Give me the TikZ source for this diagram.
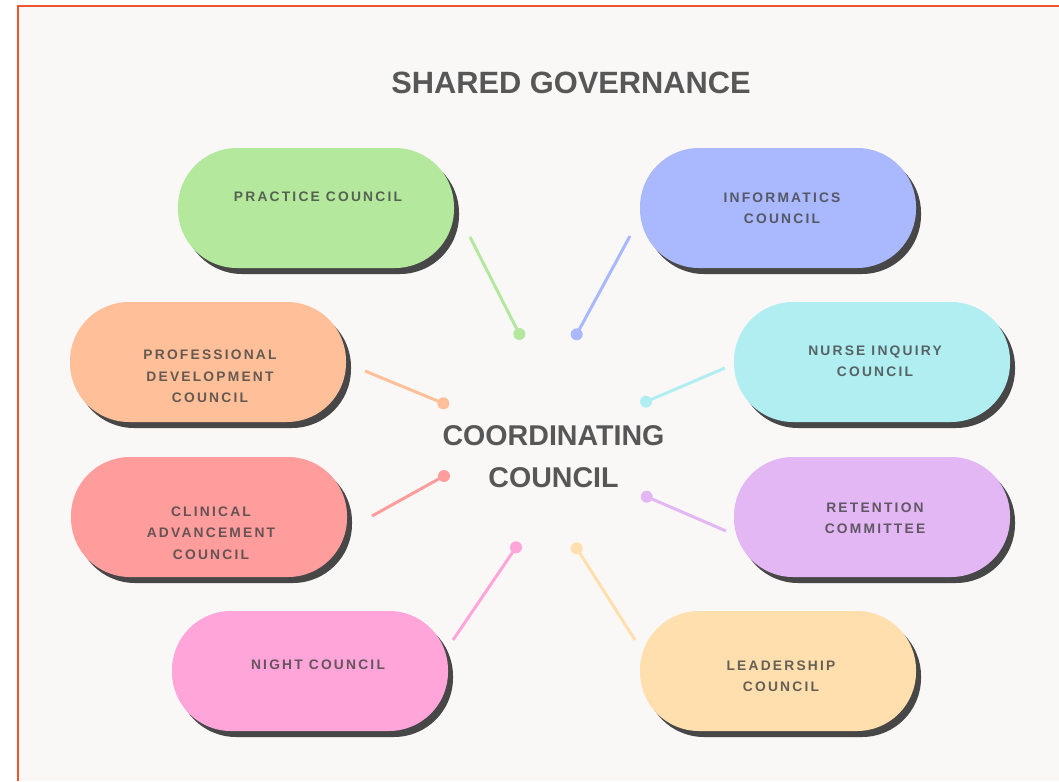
\documentclass[tikz,border=0pt]{standalone}
\usepackage{fontspec}
\setmainfont{Liberation Sans}
\newfontfamily\titlefont{Liberation Sans}[BoldFont=* Bold]
\newfontfamily\pillfont{Liberation Sans}[LetterSpace=16,BoldFont=* Bold]
\usetikzlibrary{shadows}
\definecolor{bgc}{HTML}{F9F8F7}
\definecolor{framec}{HTML}{EE5530}
\definecolor{cgreen}{HTML}{B3E89D}
\definecolor{cblue}{HTML}{AAB8FE}
\definecolor{cpeach}{HTML}{FFBF98}
\definecolor{ccyan}{HTML}{B0EEF1}
\definecolor{csalmon}{HTML}{FF9D9D}
\definecolor{cpurple}{HTML}{E3B6F4}
\definecolor{cpink}{HTML}{FFA5DA}
\definecolor{cyellow}{HTML}{FFDFAE}
\definecolor{txt}{HTML}{575757}
\tikzset{
  pill/.style={draw=none, minimum width=276pt, minimum height=120pt, rounded corners=59pt,
    drop shadow={shadow xshift=5pt, shadow yshift=-6pt, fill=black!72, opacity=1}},
  pilltext/.style={align=center, text=black!75, text opacity=0.8,
    font=\pillfont\bfseries\fontsize{13.8}{21.3}\selectfont, inner sep=0pt},
  link/.style={line width=3pt},
  dot/.style={circle, minimum size=12pt, inner sep=0pt, draw=none},
  bigtext/.style={text=txt, font=\titlefont\bfseries\fontsize{28.6}{42}\selectfont, align=center}
}
\begin{document}
\begin{tikzpicture}[x=1pt,y=-1pt]
\useasboundingbox (0,0) rectangle (1059,781);
\fill[white] (0,0) rectangle (1059,781);
\fill[bgc] (18,6) rectangle (1059,781);
\draw[framec, line width=2pt] (18,781) -- (18,6) -- (1059,6);

\node[bigtext, font=\titlefont\bfseries\fontsize{30.8}{36}\selectfont] (title) at (571,83) {SHARED GOVERNANCE};
\node[bigtext] (center) at (553.5,456.5) {COORDINATING\\COUNCIL};

% pills
\node[pill, fill=cgreen] (practice) at (316,208) {};
\node[pill, fill=cblue] (informatics) at (778,208) {};
\node[pill, fill=cpeach] (professional) at (208,362) {};
\node[pill, fill=ccyan] (nurse) at (872,362) {};
\node[pill, fill=csalmon] (clinical) at (209,517) {};
\node[pill, fill=cpurple] (retention) at (872,517) {};
\node[pill, fill=cpink] (night) at (310,671) {};
\node[pill, fill=cyellow] (leadership) at (778,671) {};

\node[pilltext] (practice-t) at (318,197) {PRACTICE COUNCIL};
\node[pilltext] (informatics-t) at (782,208) {INFORMATICS\\COUNCIL};
\node[pilltext] (professional-t) at (210,376.5) {PROFESSIONAL\\DEVELOPMENT\\COUNCIL};
\node[pilltext] (nurse-t) at (875,361.5) {NURSE INQUIRY\\COUNCIL};
\node[pilltext] (clinical-t) at (211,533) {CLINICAL\\ADVANCEMENT\\COUNCIL};
\node[pilltext] (retention-t) at (875,518) {RETENTION\\COMMITTEE};
\node[pilltext] (night-t) at (318,665) {NIGHT COUNCIL};
\node[pilltext] (leadership-t) at (781,676) {LEADERSHIP\\COUNCIL};

% connector ends
\coordinate (s1) at (470,237);
\coordinate (s2) at (630,236);
\coordinate (s3) at (365,371);
\coordinate (s4) at (725,368);
\coordinate (s5) at (372,516);
\coordinate (s6) at (726,531);
\coordinate (s7) at (453,640);
\coordinate (s8) at (635,640);

\node[dot, fill=cgreen] (d1) at (519.3,334) {};
\node[dot, fill=cblue] (d2) at (576.7,334.3) {};
\node[dot, fill=cpeach] (d3) at (443.3,403.3) {};
\node[dot, fill=ccyan] (d4) at (646,401.7) {};
\node[dot, fill=csalmon] (d5) at (444,476) {};
\node[dot, fill=cpurple] (d6) at (646.7,496.7) {};
\node[dot, fill=cpink] (d7) at (516,547.3) {};
\node[dot, fill=cyellow] (d8) at (576.7,548.3) {};

\draw[link, cgreen] (s1) -- (d1.center);
\draw[link, cblue] (s2) -- (d2.center);
\draw[link, cpeach] (s3) -- (d3.center);
\draw[link, ccyan] (s4) -- (d4.center);
\draw[link, csalmon] (s5) -- (d5.center);
\draw[link, cpurple] (s6) -- (d6.center);
\draw[link, cpink] (s7) -- (d7.center);
\draw[link, cyellow] (s8) -- (d8.center);
\end{tikzpicture}
\end{document}
